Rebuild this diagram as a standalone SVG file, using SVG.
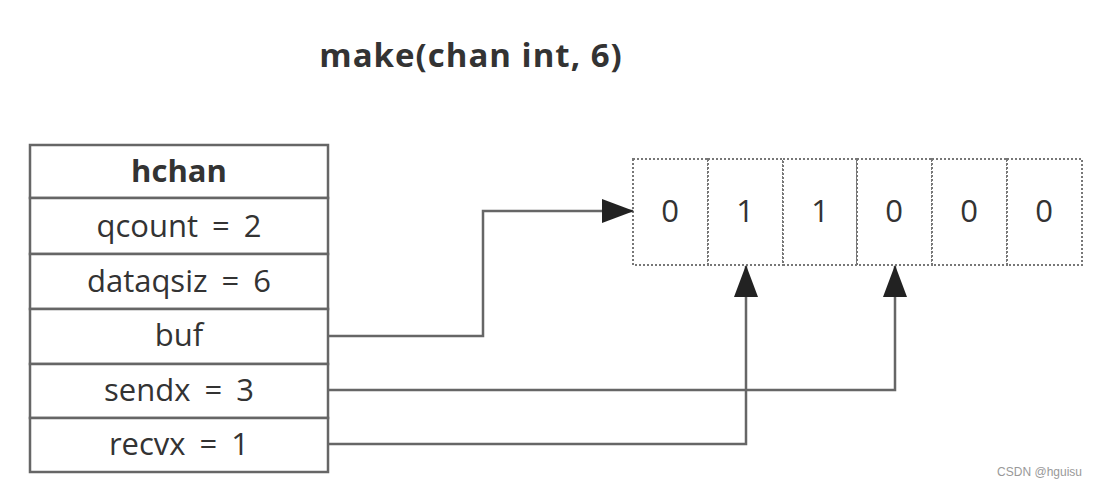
<svg xmlns="http://www.w3.org/2000/svg" width="1098" height="488" viewBox="0 0 1098 488">
<style>
.cell{fill:#fff;stroke:#666;stroke-width:2.5}
.dcell{fill:#fff;stroke:#777;stroke-width:2;stroke-dasharray:2 2}
.t{font-family:"Open Sans","DejaVu Sans",sans-serif;font-size:31px;fill:#333;text-anchor:middle;word-spacing:6px}
.b{font-weight:bold}
.conn{fill:none;stroke:#666;stroke-width:2.5}
</style>
<defs>
<marker id="ah" markerWidth="32" markerHeight="24" refX="31" refY="12" orient="auto" markerUnits="userSpaceOnUse">
<path d="M0,0 L32,12 L0,24 Z" fill="#222"/>
</marker>
</defs>
<rect width="1098" height="488" fill="#fff"/>
<text class="t b" x="471" y="67" style="font-size:33px;word-spacing:0;letter-spacing:1px">make(chan int, 6)</text>
<g id="hchan">
<rect class="cell" x="30" y="145" width="298" height="53"/>
<text class="t b" x="179" y="182">hchan</text>
</g>
<g id="qcount">
<rect class="cell" x="30" y="198" width="298" height="56"/>
<text class="t" x="179" y="237">qcount = 2</text>
</g>
<g id="dataqsiz">
<rect class="cell" x="30" y="254" width="298" height="55"/>
<text class="t" x="179" y="292">dataqsiz = 6</text>
</g>
<g id="buf">
<rect class="cell" x="30" y="309" width="298" height="55"/>
<text class="t" x="179" y="346">buf</text>
</g>
<g id="sendx">
<rect class="cell" x="30" y="364" width="298" height="54"/>
<text class="t" x="179" y="401">sendx = 3</text>
</g>
<g id="recvx">
<rect class="cell" x="30" y="418" width="298" height="54"/>
<text class="t" x="179" y="455">recvx = 1</text>
</g>
<g id="array">
<rect class="dcell" x="633" y="159" width="75" height="106"/>
<rect class="dcell" x="708" y="159" width="75" height="106"/>
<rect class="dcell" x="783" y="159" width="74" height="106"/>
<rect class="dcell" x="857" y="159" width="75" height="106"/>
<rect class="dcell" x="932" y="159" width="75" height="106"/>
<rect class="dcell" x="1007" y="159" width="75" height="106"/>
<text class="t" x="670" y="222">0</text>
<text class="t" x="745" y="222">1</text>
<text class="t" x="820" y="222">1</text>
<text class="t" x="894" y="222">0</text>
<text class="t" x="969" y="222">0</text>
<text class="t" x="1044" y="222">0</text>
</g>
<g id="connectors">
<path class="conn" d="M328,336 H483 V211 H633" marker-end="url(#ah)"/>
<path class="conn" d="M328,390 H895 V266" marker-end="url(#ah)"/>
<path class="conn" d="M328,444 H746 V266" marker-end="url(#ah)"/>
</g>
<text x="1082" y="476" font-family="'Liberation Sans',Arial,sans-serif" font-size="12" fill="#999" text-anchor="end">CSDN @hguisu</text>
</svg>
